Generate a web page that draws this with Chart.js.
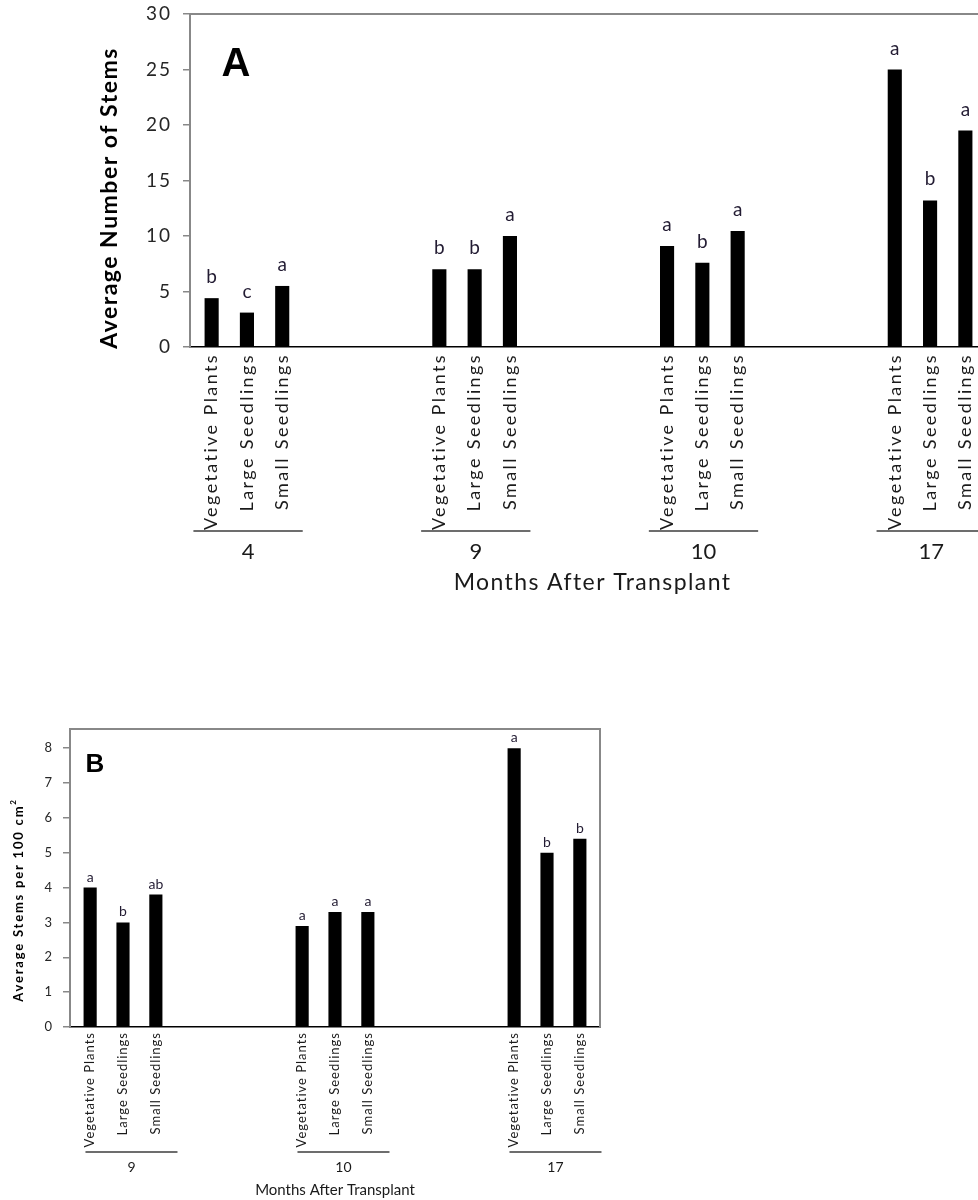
<!DOCTYPE html>
<html>
<head>
<meta charset="utf-8">
<script src="https://cdn.jsdelivr.net/npm/chart.js@4/dist/chart.umd.min.js"></script>
<style>
  html, body { margin: 0; padding: 0; background: #fff; overflow: hidden; width: 978px; height: 1200px; }
  canvas { position: absolute; left: 0; }
  #chartA { top: 0; }
  #chartB { top: 700px; }
</style>
</head>
<body>
<canvas id="chartA" width="1000" height="610"></canvas>
<canvas id="chartB" width="640" height="500"></canvas>
<script>
// Plant types compared at each census
const treatments = ['Vegetative Plants', 'Large Seedlings', 'Small Seedlings'];

// Panel A: average number of stems
const monthsA = ['4', '9', '10', '17'];
const vegetativeA = [4.4, 7.0, 9.1, 25.0];
const largeA = [3.1, 7.0, 7.6, 13.2];
const smallA = [5.5, 10.0, 10.45, 19.5];
const lettersVegetativeA = ['b', 'b', 'a', 'a'];
const lettersLargeA = ['c', 'b', 'b', 'b'];
const lettersSmallA = ['a', 'a', 'a', 'a'];
const yTicksA = [0, 5, 10, 15, 20, 25, 30];

// Panel B: average stems per 100 cm2
const monthsB = ['9', '10', '17'];
const vegetativeB = [4.0, 2.9, 8.0];
const largeB = [3.0, 3.3, 5.0];
const smallB = [3.8, 3.3, 5.4];
const lettersVegetativeB = ['a', 'a', 'a'];
const lettersLargeB = ['b', 'a', 'b'];
const lettersSmallB = ['ab', 'a', 'b'];
const yTicksB = [0, 1, 2, 3, 4, 5, 6, 7, 8];

// spacing between neighbouring bars inside one month group (in group units)
const SLOT = 0.155;
const FRAME = '#888888';

// Draws the frame, significance letters, grouped month axis and titles
const panelDecor = {
  id: 'panelDecor',
  beforeDraw(chart, args, o) {
    chart.ctx.letterSpacing = o.yTickSpacing + 'px';
  },
  afterDatasetsDraw(chart, args, o) {
    const ctx = chart.ctx;
    ctx.save();
    ctx.letterSpacing = '0px';
    ctx.fillStyle = '#231c33';
    ctx.font = o.letterSize + 'px Lato';
    ctx.textAlign = 'center';
    ctx.textBaseline = 'alphabetic';
    chart.data.datasets.forEach((ds, di) => {
      chart.getDatasetMeta(di).data.forEach((bar, i) => {
        ctx.fillText(ds.letters[i], bar.x, bar.y - o.letterGap);
      });
    });
    ctx.restore();
    ctx.letterSpacing = o.xTickSpacing + 'px';
  },
  afterDraw(chart, args, o) {
    const ctx = chart.ctx;
    const {left, right, top, bottom} = chart.chartArea;
    const xs = chart.scales.x;
    ctx.save();
    ctx.letterSpacing = '0px';

    // frame around the plot area
    ctx.strokeStyle = FRAME;
    ctx.lineWidth = 2;
    ctx.beginPath();
    ctx.moveTo(left - 1, top);
    ctx.lineTo(right, top);
    if (o.rightFrame) ctx.lineTo(right, bottom);
    ctx.stroke();

    // month groups: underline and month number
    const lineY = bottom + o.groupLineOffset;
    o.months.forEach((label, m) => {
      const x0 = xs.getPixelForValue(m + o.groupShift - o.groupSpan);
      const x1 = xs.getPixelForValue(m + o.groupShift + o.groupSpan);
      ctx.strokeStyle = '#3c3c3c';
      ctx.lineWidth = 1.5;
      ctx.beginPath();
      ctx.moveTo(x0, lineY);
      ctx.lineTo(x1, lineY);
      ctx.stroke();
      ctx.fillStyle = '#1a1a1a';
      ctx.font = o.monthSize + 'px Lato';
      ctx.textAlign = 'center';
      ctx.textBaseline = 'middle';
      ctx.fillText(label, (x0 + x1) / 2, lineY + o.monthOffset);
    });

    // x axis title
    ctx.fillStyle = '#1a1a1a';
    ctx.font = o.xTitleSize + 'px Lato';
    ctx.letterSpacing = o.xTitleSpacing + 'px';
    ctx.textAlign = 'center';
    ctx.textBaseline = 'middle';
    ctx.fillText('Months After Transplant', (left + right) / 2 + o.xTitleShift, bottom + o.xTitleOffset);

    // y axis title, rotated
    ctx.save();
    ctx.translate(left + o.yTitleX, bottom - o.yTitleY);
    ctx.rotate(-Math.PI / 2);
    ctx.font = 'bold ' + o.yTitleSize + 'px Lato';
    ctx.letterSpacing = o.yTitleSpacing + 'px';
    ctx.textBaseline = 'middle';
    ctx.textAlign = 'left';
    const mainW = ctx.measureText(o.yTitle).width;
    let supW = 0;
    if (o.yTitleSup) {
      ctx.font = 'bold ' + Math.round(o.yTitleSize * 0.62) + 'px Lato';
      supW = ctx.measureText(o.yTitleSup).width;
    }
    const start = -(mainW + supW) / 2;
    ctx.font = 'bold ' + o.yTitleSize + 'px Lato';
    ctx.fillStyle = '#000';
    ctx.fillText(o.yTitle, start, 0);
    if (o.yTitleSup) {
      ctx.font = 'bold ' + Math.round(o.yTitleSize * 0.62) + 'px Lato';
      ctx.fillText(o.yTitleSup, start + mainW, -o.yTitleSize * 0.42);
    }
    ctx.restore();

    // panel letter
    ctx.letterSpacing = '0px';
    ctx.fillStyle = '#000';
    ctx.font = 'bold ' + o.panelSize + 'px "Liberation Sans"';
    ctx.textAlign = 'center';
    ctx.textBaseline = 'middle';
    ctx.fillText(o.panel, left + o.panelX, top + o.panelY);
    ctx.restore();
    ctx.letterSpacing = '0px';
  }
};

function makePanel(id, months, series, letters, yTicks, yMax, s) {
  const positions = [];
  months.forEach((m, mi) => treatments.forEach((t, ti) => positions.push(mi + (ti - 1) * SLOT)));
  const datasets = series.map((vals, ti) => ({
    label: treatments[ti],
    data: vals.map((v, mi) => ({x: mi + (ti - 1) * SLOT, y: v})),
    letters: letters[ti],
    backgroundColor: '#000',
    borderColor: '#000',
    borderWidth: 0,
    grouped: false,
    barPercentage: 0.5
  }));
  return new Chart(document.getElementById(id), {
    type: 'bar',
    data: {datasets},
    plugins: [panelDecor],
    options: {
      responsive: false,
      animation: false,
      devicePixelRatio: 1,
      layout: {padding: {top: s.top, right: s.right, left: 0, bottom: 0}},
      plugins: {
        legend: {display: false},
        tooltip: {enabled: false},
        panelDecor: s.decor
      },
      scales: {
        x: {
          type: 'linear',
          min: -0.25,
          max: months.length - 0.75,
          offset: false,
          afterBuildTicks: sc => { sc.ticks = positions.map(v => ({value: v})); },
          afterFit: sc => { sc.height = s.xAxisHeight; sc.paddingLeft = 0; sc.paddingRight = 0; },
          grid: {display: false, drawTicks: false},
          border: {color: '#000', width: 1.5},
          ticks: {
            z: 1,
            autoSkip: false,
            minRotation: 90,
            maxRotation: 90,
            padding: s.xTickPad,
            color: '#1a1a1a',
            font: {family: 'Lato', size: s.catSize},
            callback: (v, i) => treatments[i % treatments.length]
          }
        },
        y: {
          min: 0,
          max: yMax,
          afterBuildTicks: sc => { sc.ticks = yTicks.map(v => ({value: v})); },
          afterFit: sc => { sc.width = s.yAxisWidth; sc.paddingTop = 0; sc.paddingBottom = 0; },
          grid: {drawOnChartArea: false, drawTicks: true, tickLength: 7, color: FRAME, lineWidth: 1.5},
          border: {color: FRAME, width: 2},
          ticks: {
            padding: s.yTickPad,
            color: '#262626',
            font: {family: 'Lato', size: s.yTickSize}
          }
        }
      }
    }
  });
}

makePanel('chartA', monthsA, [vegetativeA, largeA, smallA],
  [lettersVegetativeA, lettersLargeA, lettersSmallA], yTicksA, 30, {
    top: 14, right: 13, yAxisWidth: 190, xAxisHeight: 263,
    xTickPad: 6, catSize: 18, yTickPad: 11, yTickSize: 19,
    decor: {
      months: monthsA, yTickSpacing: 2, xTickSpacing: 2.4,
      letterSize: 19, letterGap: 15,
      groupLineOffset: 184, groupSpan: 0.24, groupShift: 0.005,
      monthSize: 22, monthOffset: 21,
      xTitleSize: 23, xTitleSpacing: 1.4, xTitleShift: 4, xTitleOffset: 236,
      yTitle: 'Average Number of Stems', yTitleSup: '', yTitleSize: 23, yTitleSpacing: 1.5,
      yTitleX: -80, yTitleY: 149,
      panel: 'A', panelSize: 40, panelX: 46, panelY: 51,
      rightFrame: false
    }
  });

makePanel('chartB', monthsB, [vegetativeB, largeB, smallB],
  [lettersVegetativeB, lettersLargeB, lettersSmallB], yTicksB, 8.55, {
    top: 29, right: 40, yAxisWidth: 70, xAxisHeight: 173,
    xTickPad: 5, catSize: 13, yTickPad: 10, yTickSize: 13,
    decor: {
      months: monthsB, yTickSpacing: 1, xTickSpacing: 1.0,
      letterSize: 14, letterGap: 6,
      groupLineOffset: 125, groupSpan: 0.217, groupShift: 0.04,
      monthSize: 14, monthOffset: 15,
      xTitleSize: 15, xTitleSpacing: 0, xTitleShift: 0, xTitleOffset: 163,
      yTitle: 'Average Stems per 100 cm', yTitleSup: '2', yTitleSize: 13, yTitleSpacing: 1.8,
      yTitleX: -51, yTitleY: 127,
      panel: 'B', panelSize: 26, panelX: 25, panelY: 36,
      rightFrame: true
    }
  });
</script>
</body>
</html>
